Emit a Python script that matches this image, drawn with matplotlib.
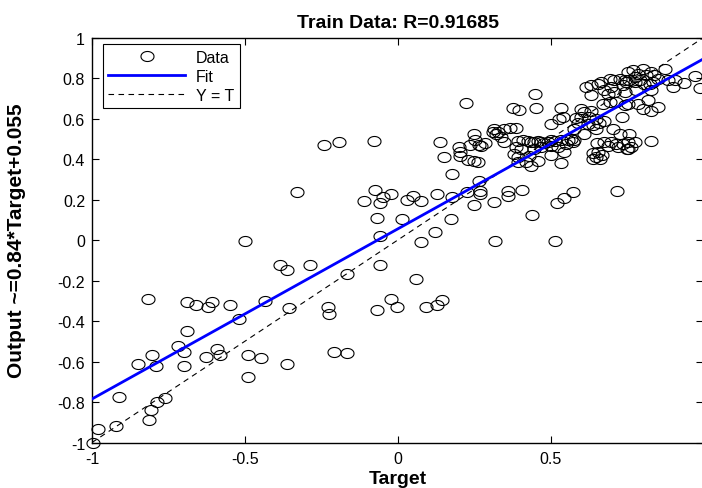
import matplotlib
matplotlib.use('Agg')
import matplotlib.pyplot as plt
import numpy as np

plt.rcParams['font.family'] = ['Liberation Sans', 'DejaVu Sans']

# (target, output) pairs, grouped by area of the plot
lower_left = [(-0.818, -0.292), (-0.690, -0.308), (-0.659, -0.320), (-0.622, -0.333), (-0.606, -0.308),
              (-0.550, -0.320), (-0.435, -0.300), (-0.356, -0.337), (-0.385, -0.122), (-0.363, -0.147),
              (-0.286, -0.122), (-0.330, 0.239), (-0.498, -0.006), (-0.518, -0.391), (-0.690, -0.450),
              (-0.717, -0.523), (-0.700, -0.551), (-0.803, -0.566), (-0.850, -0.612), (-0.792, -0.622),
              (-0.700, -0.622), (-0.627, -0.576), (-0.590, -0.540), (-0.580, -0.569), (-0.491, -0.566),
              (-0.446, -0.581), (-0.363, -0.612), (-0.489, -0.675), (-0.912, -0.774), (-0.788, -0.799),
              (-0.762, -0.781), (-0.807, -0.837), (-0.814, -0.888), (-0.922, -0.919), (-0.980, -0.931),
              (-0.997, -1.0)]

middle = [(-0.240, 0.469), (-0.193, 0.484), (-0.079, 0.489), (-0.109, 0.195), (-0.074, 0.248),
          (-0.058, 0.183), (-0.047, 0.214), (-0.022, 0.229), (-0.069, 0.107), (0.014, 0.102),
          (0.029, 0.197), (0.049, 0.219), (0.076, 0.192), (0.128, 0.229), (0.175, 0.102),
          (0.179, 0.214), (0.122, 0.038), (0.076, -0.011), (-0.058, 0.021), (-0.167, -0.168),
          (-0.058, -0.122), (0.060, -0.190), (-0.229, -0.333), (-0.224, -0.366), (-0.069, -0.347),
          (-0.022, -0.292), (-0.002, -0.333), (0.091, -0.333), (0.128, -0.320), (0.144, -0.297),
          (-0.209, -0.551), (-0.166, -0.559), (0.139, 0.484), (0.150, 0.411), (0.179, 0.328),
          (0.222, 0.677)]

lower_right = [(0.227, 0.236), (0.267, 0.290), (0.269, 0.244), (0.270, 0.228), (0.251, 0.173),
               (0.314, 0.187), (0.317, -0.006), (0.362, 0.244), (0.362, 0.219), (0.407, 0.249),
               (0.439, 0.124), (0.520, 0.183), (0.543, 0.208), (0.573, 0.239), (0.718, 0.244),
               (0.515, -0.006)]

band = [(0.202, 0.459), (0.204, 0.434), (0.204, 0.417), (0.229, 0.396), (0.249, 0.390), (0.262, 0.388),
        (0.251, 0.525), (0.236, 0.472), (0.253, 0.495), (0.267, 0.472), (0.273, 0.467), (0.284, 0.480),
        (0.316, 0.550), (0.322, 0.525), (0.311, 0.533), (0.327, 0.533), (0.338, 0.508), (0.347, 0.484),
        (0.349, 0.550), (0.366, 0.553), (0.388, 0.554), (0.393, 0.490), (0.409, 0.492), (0.426, 0.487),
        (0.436, 0.484), (0.447, 0.485), (0.458, 0.490), (0.469, 0.484), (0.480, 0.480), (0.491, 0.486),
        (0.502, 0.492), (0.513, 0.487), (0.535, 0.496), (0.557, 0.492), (0.578, 0.492), (0.387, 0.459),
        (0.404, 0.450), (0.447, 0.450), (0.469, 0.459), (0.502, 0.467), (0.524, 0.459), (0.551, 0.475),
        (0.573, 0.483), (0.567, 0.500), (0.382, 0.426), (0.393, 0.410), (0.393, 0.388), (0.420, 0.388),
        (0.436, 0.365), (0.458, 0.393), (0.431, 0.417), (0.500, 0.418), (0.533, 0.381), (0.543, 0.437),
        (0.450, 0.723), (0.376, 0.652), (0.398, 0.644), (0.453, 0.652), (0.535, 0.652), (0.540, 0.607),
        (0.527, 0.596), (0.500, 0.574), (0.578, 0.549)]

right_mid = [(0.638, 0.400), (0.655, 0.436), (0.662, 0.402), (0.640, 0.432), (0.650, 0.412), (0.668, 0.418),
             (0.753, 0.450), (0.600, 0.649), (0.609, 0.632), (0.584, 0.602), (0.590, 0.578), (0.600, 0.610),
             (0.633, 0.640), (0.649, 0.599), (0.625, 0.607), (0.622, 0.574), (0.638, 0.566), (0.676, 0.586),
             (0.660, 0.580), (0.733, 0.607), (0.704, 0.550), (0.758, 0.525), (0.726, 0.525), (0.611, 0.525),
             (0.649, 0.549), (0.652, 0.478), (0.676, 0.484), (0.687, 0.467), (0.698, 0.484), (0.715, 0.475),
             (0.722, 0.460), (0.737, 0.475), (0.749, 0.452), (0.753, 0.484), (0.762, 0.462), (0.775, 0.484),
             (0.829, 0.489), (0.802, 0.649), (0.829, 0.640), (0.851, 0.657), (0.786, 0.673), (0.818, 0.690)]

upper = [(0.802, 0.847), (0.873, 0.847), (0.769, 0.838), (0.753, 0.830), (0.786, 0.822), (0.813, 0.814),
         (0.840, 0.814), (0.851, 0.797), (0.884, 0.789), (0.906, 0.789), (0.938, 0.776), (0.971, 0.809),
         (0.988, 0.752), (0.633, 0.764), (0.616, 0.756), (0.655, 0.772), (0.666, 0.781), (0.693, 0.797),
         (0.709, 0.789), (0.726, 0.797), (0.742, 0.789), (0.758, 0.789), (0.775, 0.781), (0.791, 0.789),
         (0.807, 0.772), (0.824, 0.772), (0.835, 0.781), (0.633, 0.715), (0.687, 0.723), (0.709, 0.731),
         (0.742, 0.731), (0.780, 0.739), (0.829, 0.739), (0.693, 0.682), (0.671, 0.673), (0.715, 0.682),
         (0.753, 0.673), (0.742, 0.665), (0.747, 0.781), (0.775, 0.805), (0.736, 0.764), (0.698, 0.756),
         (0.676, 0.739), (0.900, 0.756), (0.829, 0.830)]

fit_slope = 0.84
fit_intercept = 0.055
x_ticks = [-1, -0.5, 0, 0.5, 1]
x_ticklabels = ['-1', '-0.5', '0', '0.5', '']   # the "1" falls off the right edge in the reference
y_ticks = [-1, -0.8, -0.6, -0.4, -0.2, 0, 0.2, 0.4, 0.6, 0.8, 1]
y_ticklabels = ['-1', '-0.8', '-0.6', '-0.4', '-0.2', '0', '0.2', '0.4', '0.6', '0.8', '1']

pts = np.array(lower_left + middle + lower_right + band + right_mid + upper)
target = pts[:, 0]
output = pts[:, 1]

# open ellipse marker (the reference circles are a bit wider than tall)
t = np.linspace(0, 2 * np.pi, 41)
ellipse = np.column_stack([1.3 * np.cos(t), np.sin(t)])

fig = plt.figure(figsize=(7.02, 4.89), dpi=100)
ax = fig.add_axes([0.131, 0.093, 0.871, 0.828])

line_x = np.array([-1.0, 1.0])
h_yt, = ax.plot(line_x, line_x, color='k', linestyle='--', dashes=(5, 4), lw=0.8, zorder=1, label='Y = T')
h_data, = ax.plot(target, output, linestyle='none', marker=ellipse, ms=9.4, mfc='none', mec='k',
                  mew=0.8, zorder=2, clip_on=False, label='Data')
h_fit, = ax.plot(line_x, fit_slope * line_x + fit_intercept, color=(0, 0, 1), lw=2, zorder=3, label='Fit')

ax.set_xlim(-1, 1)
ax.set_ylim(-1, 1)
ax.set_xticks(x_ticks)
ax.set_xticklabels(x_ticklabels)
ax.set_yticks(y_ticks)
ax.set_yticklabels(y_ticklabels)
ax.tick_params(direction='in', top=True, right=True, length=5, width=0.8, labelsize=11.5)
ax.tick_params(axis='x', pad=6)
ax.tick_params(axis='y', pad=5)
for s in ax.spines.values():
    s.set_linewidth(1.0)

ax.set_title('Train Data: R=0.91685', fontsize=14, fontweight='bold', pad=8)
ax.set_xlabel('Target', fontsize=14, fontweight='bold')
ax.xaxis.set_label_coords(0.5, -0.068)
ax.set_ylabel('Output ~=0.84*Target+0.055', fontsize=15, fontweight='bold')
ax.yaxis.set_label_coords(-0.108, 0.5)

leg = ax.legend(handles=[h_data, h_fit, h_yt], loc='upper left', bbox_to_anchor=(0.0175, 0.984),
                borderaxespad=0, fontsize=11.5, handlelength=4.8, handletextpad=0.7, borderpad=0.35,
                labelspacing=0.25, fancybox=False, framealpha=1, edgecolor='k', numpoints=1)
leg.get_frame().set_linewidth(0.8)

fig.savefig('out.png', dpi=100)
